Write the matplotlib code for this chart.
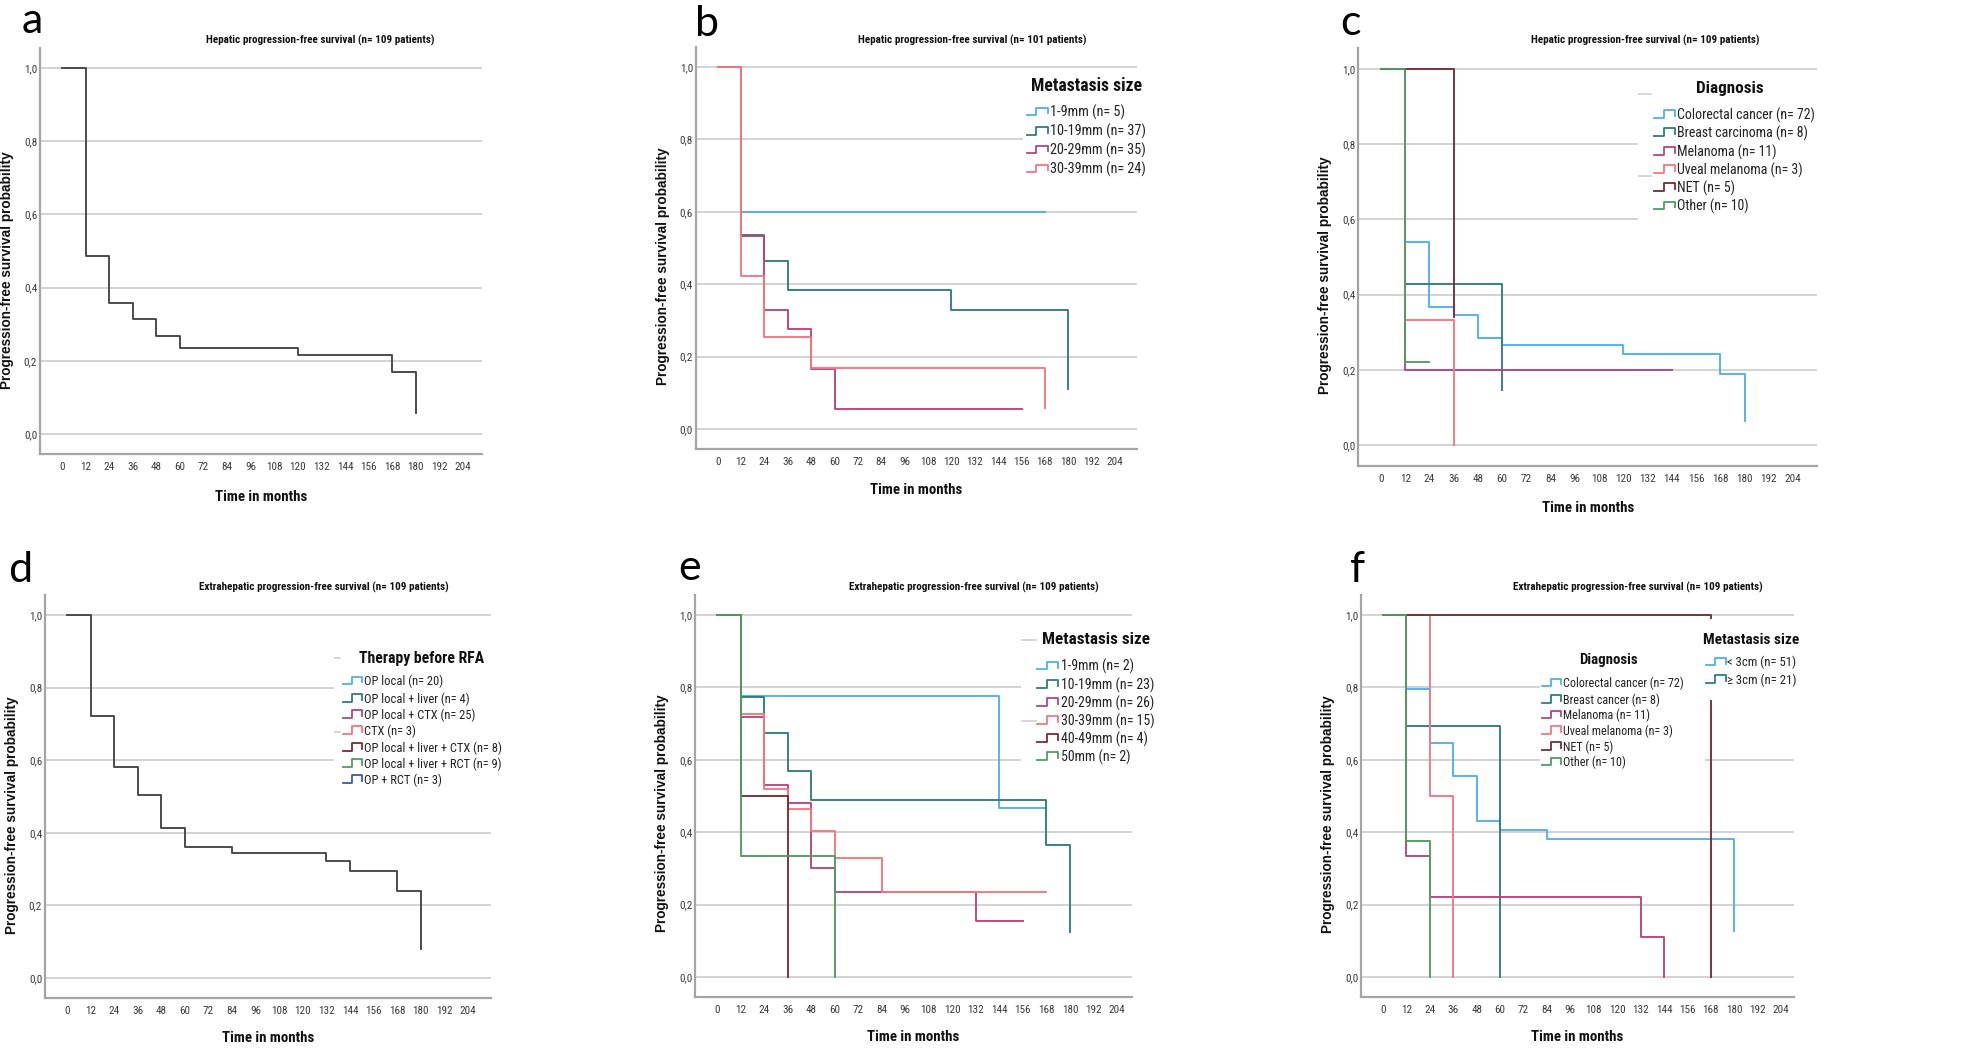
import matplotlib
matplotlib.use("Agg")
import matplotlib.pyplot as plt
from matplotlib import font_manager
from matplotlib.patches import Rectangle

# %%
# values (months / progression-free probability)
month_ticks = list(range(0, 205, 12))
prob_ticks = [0.0, 0.2, 0.4, 0.6, 0.8, 1.0]
prob_labels = ["0,0", "0,2", "0,4", "0,6", "0,8", "1,0"]

a_times = [0, 12, 24, 36, 48, 60, 120, 168, 180]
a_surv = [1.0, 0.485, 0.359, 0.315, 0.268, 0.235, 0.217, 0.169, 0.057]

b_labels = ["1-9mm (n= 5)", "10-19mm (n= 37)", "20-29mm (n= 35)", "30-39mm (n= 24)"]
b_times = [[0, 12, 168], [0, 12, 24, 36, 120, 180], [0, 12, 24, 36, 48, 60, 156], [0, 12, 24, 48, 168]]
b_surv = [[1.0, 0.6, 0.6], [1.0, 0.536, 0.465, 0.385, 0.33, 0.111],
          [1.0, 0.533, 0.328, 0.276, 0.167, 0.056, 0.056], [1.0, 0.424, 0.253, 0.168, 0.058]]

c_labels = ["Colorectal cancer (n= 72)", "Breast carcinoma (n= 8)", "Melanoma (n= 11)",
            "Uveal melanoma (n= 3)", "NET (n= 5)", "Other (n= 10)"]
c_times = [[0, 12, 24, 36, 48, 60, 120, 168, 180], [0, 12, 60], [0, 12, 144], [0, 12, 36], [0, 36], [0, 12, 24]]
c_surv = [[1.0, 0.541, 0.366, 0.347, 0.285, 0.266, 0.243, 0.189, 0.063], [1.0, 0.428, 0.145],
          [1.0, 0.2, 0.2], [1.0, 0.333, 0.0], [1.0, 0.34], [1.0, 0.222, 0.222]]

d_labels = ["OP local (n= 20)", "OP local + liver (n= 4)", "OP local + CTX (n= 25)", "CTX (n= 3)",
            "OP local + liver + CTX (n= 8)", "OP local + liver + RCT (n= 9)", "OP + RCT (n= 3)"]
d_times = [0, 12, 24, 36, 48, 60, 84, 132, 144, 168, 180]
d_surv = [1.0, 0.722, 0.581, 0.503, 0.413, 0.362, 0.344, 0.321, 0.294, 0.240, 0.081]

e_labels = ["1-9mm (n= 2)", "10-19mm (n= 23)", "20-29mm (n= 26)", "30-39mm (n= 15)", "40-49mm (n= 4)", "50mm (n= 2)"]
e_times = [[0, 12, 144, 168], [0, 12, 24, 36, 48, 168, 180], [0, 12, 24, 36, 48, 60, 132, 156],
           [0, 12, 24, 36, 48, 60, 84, 168], [0, 12, 36], [0, 12, 60]]
e_surv = [[1.0, 0.777, 0.466, 0.466], [1.0, 0.773, 0.674, 0.569, 0.488, 0.365, 0.124],
          [1.0, 0.718, 0.53, 0.482, 0.301, 0.235, 0.156, 0.156], [1.0, 0.727, 0.52, 0.465, 0.404, 0.33, 0.235, 0.235],
          [1.0, 0.5, 0.0], [1.0, 0.333, 0.0]]

f_labels = ["Colorectal cancer (n= 72)", "Breast cancer (n= 8)", "Melanoma (n= 11)",
            "Uveal melanoma (n= 3)", "NET (n= 5)", "Other (n= 10)"]
f_times = [[0, 12, 24, 36, 48, 60, 84, 180], [0, 12, 60], [0, 12, 24, 132, 144], [0, 24, 36], [0, 168], [0, 12, 24]]
f_surv = [[1.0, 0.795, 0.647, 0.556, 0.43, 0.406, 0.381, 0.128], [1.0, 0.693, 0.0],
          [1.0, 0.333, 0.222, 0.111, 0.0], [1.0, 0.5, 0.0], [1.0, 0.0], [1.0, 0.375, 0.0]]
f_size_labels = ["< 3cm (n= 51)", "\u2265 3cm (n= 21)"]

hep_title = "Hepatic progression-free survival (n= {} patients)"
ext_title = "Extrahepatic progression-free survival (n= 109 patients)"

# SPSS default group colours
palette = ["#4FB0EE", "#2E7E7A", "#B5467B", "#F6767E", "#7A2B36", "#4E9D62", "#3A56B8"]

# %%
W, H = 1964, 1051
XMIN, YMIN, YMAX = -11.2, -0.055, 1.055

# SPSS text is narrow; use a condensed face if there is one, else shrink a bit
installed = {f.name for f in font_manager.fontManager.ttflist}
NARROW, K = "Liberation Sans", 0.88
for name, k in [("Liberation Sans Narrow", 1.0), ("Arial Narrow", 1.0), ("Roboto Condensed", 1.0)]:
    if name in installed:
        NARROW, K = name, k
        break
NFAM = [NARROW, "DejaVu Sans"]

fig = plt.figure(figsize=(W / 100, H / 100), dpi=100)


def px(x, y):
    return x / W, 1 - y / H


def make_axes(g, title):
    ppm = (g["x204"] - g["x0"]) / 204
    ppu = g["y0"] - g["y1"]
    xmax = (g["right"] - g["x0"]) / ppm
    left = g["x0"] + XMIN * ppm
    top = g["y0"] - YMAX * ppu
    bot = g["y0"] - YMIN * ppu
    ax = fig.add_axes([left / W, 1 - bot / H, (g["right"] - left) / W, (bot - top) / H])
    ax.set_xlim(XMIN, xmax)
    ax.set_ylim(YMIN, YMAX)
    ax.set_xticks(month_ticks)
    ax.set_yticks(prob_ticks, prob_labels)
    ax.tick_params(length=0, labelsize=8.0, labelcolor="#3a3a3a")
    ax.tick_params(axis="x", pad=6.0)
    ax.tick_params(axis="y", pad=2)
    for lab in ax.get_xticklabels() + ax.get_yticklabels():
        lab.set_family(NFAM)
    for s in ["top", "right"]:
        ax.spines[s].set_visible(False)
    for s in ["left", "bottom"]:
        ax.spines[s].set_color("#A4A4A4")
        ax.spines[s].set_linewidth(1.6)
    ax.grid(axis="y", color="#D3D3D3", lw=1.4)
    ax.set_axisbelow(True)
    ax.set_xlabel("Time in months", fontsize=10.7 * K, weight="bold", family=NFAM, color="#111111", va="center")
    ax.xaxis.set_label_coords(0.5, -(g["xlab"] - bot) / (bot - top))
    ax.set_ylabel("Progression-free survival probability", fontsize=9.8, weight="bold",
                  family=["Liberation Sans", "DejaVu Sans"], color="#111111", va="center")
    ax.yaxis.set_label_coords(-33 / (g["right"] - left), (bot - g["ylab"]) / (bot - top))
    fig.text(*px(*g["title"]), title, ha="center", va="center", fontsize=8 * K, weight="bold",
             family=NFAM, color="#111111")
    fig.text(*px(*g["letter"]), g["name"], ha="left", va="baseline", fontsize=31, family=["Lato", "DejaVu Sans"])
    return ax, xmax


def km(ax, times, surv, colors):
    for t, s, c in zip(times, surv, colors):
        ax.step(t, s, where="post", color=c, lw=1.35, zorder=2)


def legend(ax, title, tpos, tha, tfs, labels, colors, icon, tx, rows, fs, box, dashes=None):
    bx0, by0, bx1, by1 = box
    ax.add_patch(Rectangle((bx0, by0), bx1 - bx0, by1 - by0, fc="white", ec="none", zorder=3))
    ax.text(tpos[0], tpos[1], title, ha=tha, va="center", fontsize=tfs * K, weight="bold",
            family=NFAM, color="#111111", zorder=6)
    ix0, ix1 = icon
    xm = ix0 + 0.47 * (ix1 - ix0)
    dy = 0.0105
    for lab, col, y in zip(labels, colors, rows):
        yi = y + 0.003
        ax.plot([ix0, xm, xm, ix1, ix1], [yi - dy, yi - dy, yi + dy, yi + dy, yi - 0.5 * dy],
                color=col, lw=1.3, zorder=5, clip_on=False)
        ax.text(tx, y, lab, ha="left", va="center", fontsize=fs * K, family=NFAM, color="#222222", zorder=6)
    if dashes:
        for y in dashes[1]:
            ax.plot(dashes[0], [y, y], color="#CFCFCF", lw=1.2, zorder=5)


geo = {
    "a": dict(x0=62, x204=463, y1=68, y0=434, right=482, xlab=497, ylab=270, letter=(22, 33), title=(320, 40)),
    "b": dict(x0=717.7, x204=1115, y1=67, y0=429, right=1136.7, xlab=490, ylab=266, letter=(695, 36), title=(972, 40)),
    "c": dict(x0=1381, x204=1793, y1=69, y0=445, right=1817, xlab=508, ylab=275, letter=(1340, 35), title=(1645, 40)),
    "d": dict(x0=67, x204=468, y1=615, y0=978, right=491, xlab=1038, ylab=815, letter=(8, 582), title=(324, 587)),
    "e": dict(x0=717, x204=1117, y1=615, y0=977, right=1132, xlab=1037, ylab=813, letter=(678, 580), title=(974, 587)),
    "f": dict(x0=1383, x204=1781, y1=615, y0=977, right=1794, xlab=1037, ylab=814, letter=(1350, 582), title=(1638, 587)),
}
for k in geo:
    geo[k]["name"] = k

# %% a
ax, xmax = make_axes(geo["a"], hep_title.format(109))
ax.step(a_times, a_surv, where="post", color="#454545", lw=1.35, zorder=2)

# %% b
ax, xmax = make_axes(geo["b"], hep_title.format(101))
km(ax, b_times, b_surv, palette)
legend(ax, "Metastasis size", (160.9, 0.948), "left", 12.7, b_labels, palette, (158.6, 169.4), 170.6,
       [0.874, 0.821, 0.769, 0.717], 10.3, (157, 0.68, xmax + 5, 0.98))

# %% c
ax, xmax = make_axes(geo["c"], hep_title.format(109))
km(ax, c_times, c_surv, palette)
legend(ax, "Diagnosis", (172.7, 0.949), "center", 12.3, c_labels, palette, (135.2, 145.8), 146.8,
       [0.878, 0.829, 0.779, 0.730, 0.682, 0.634], 10.0, (127.3, 0.58, xmax + 5, 0.97),
       dashes=([127.5, 133.9], [0.933, 0.715]))

# %% d
ax, xmax = make_axes(geo["d"], ext_title)
ax.step(d_times, d_surv, where="post", color="#454545", lw=1.35, zorder=2)
legend(ax, "Therapy before RFA", (148.7, 0.881), "left", 11.3, d_labels, palette, (140.2, 150.1), 150.9,
       [0.817, 0.769, 0.725, 0.680, 0.633, 0.589, 0.545], 9.0, (135.7, 0.52, xmax + 5, 0.93),
       dashes=([136.2, 138.7], [0.881, 0.677]))

# %% e
ax, xmax = make_axes(geo["e"], ext_title)
km(ax, e_times, e_surv, palette)
legend(ax, "Metastasis size", (165.5, 0.931), "left", 12.3, e_labels, palette, (163.4, 174.0), 175.2,
       [0.857, 0.807, 0.756, 0.707, 0.657, 0.607], 10.0, (155, 0.585, xmax + 5, 0.97),
       dashes=([155.3, 162.9], [0.931, 0.706]))

# %% f
ax, xmax = make_axes(geo["f"], ext_title)
km(ax, f_times, f_surv, palette)
legend(ax, "Diagnosis", (115.4, 0.875), "center", 10.7, f_labels, palette, (81.6, 91.0), 92.3,
       [0.811, 0.765, 0.722, 0.680, 0.635, 0.592], 8.7, (80.4, 0.57, 165, 0.92))
legend(ax, "Metastasis size", (164.2, 0.930), "left", 11.1, f_size_labels, palette[:2], (165.5, 175.6), 176.5,
       [0.868, 0.820], 9.2, (165, 0.765, xmax + 5, 0.99))

fig.savefig("out.png", dpi=100, facecolor="white")
